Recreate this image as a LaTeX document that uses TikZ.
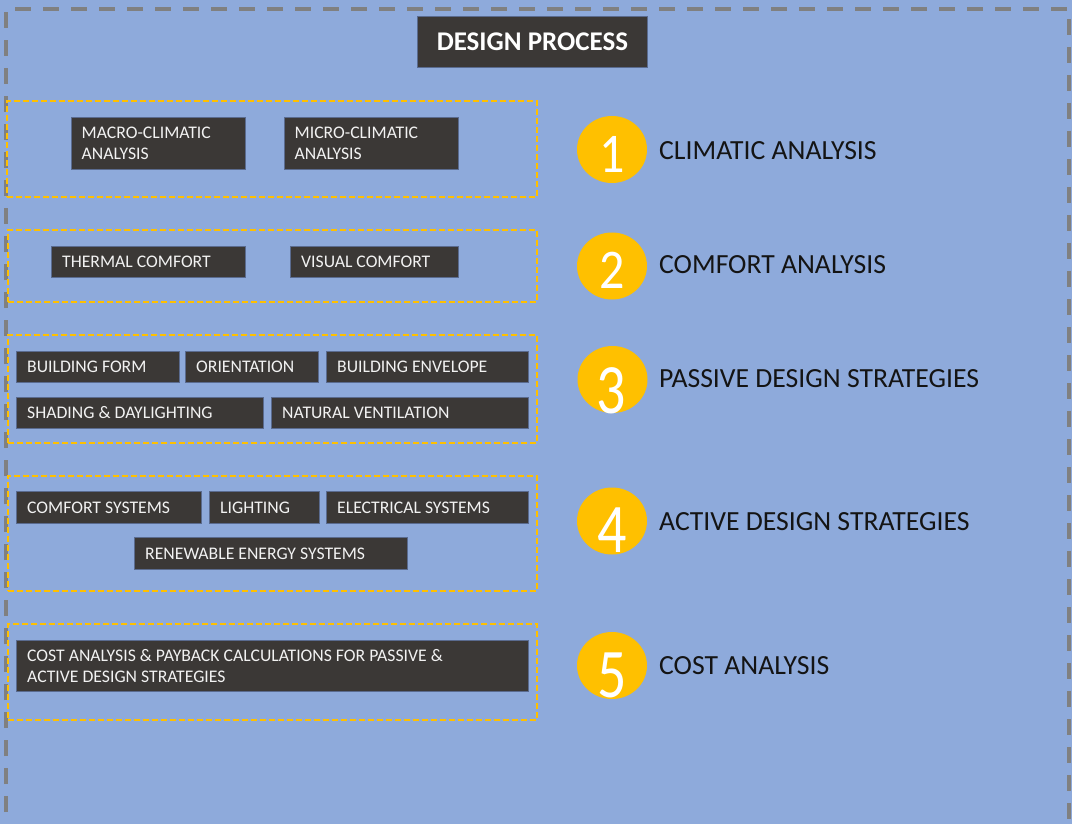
\documentclass[tikz,border=0pt]{standalone}
\usepackage{fontspec}
\setmainfont{Carlito}
\usetikzlibrary{shapes.geometric}
\definecolor{bg}{HTML}{8EAADB}
\definecolor{frame}{HTML}{808080}
\definecolor{gold}{HTML}{FFC000}
\definecolor{dark}{HTML}{3B3836}
\definecolor{dedge}{HTML}{5A6B8F}
\definecolor{ink}{HTML}{141414}
\newcommand\mkbox[6]{%
  \node[dbox, minimum width={#4-#2}, minimum height={#5-#3}, anchor=north west] (#1) at (#2,#3) {};
  \node[dtext, anchor=west] (#1t) at ([xshift=11pt]#1.west) {#6};}
\newcommand\mkgroup[5]{%
  \node[ybox, minimum width={#4-#2}, minimum height={#5-#3}, anchor=north west] (#1) at (#2,#3) {};}
\begin{document}
\begin{tikzpicture}[x=1pt,y=-1pt,
  dbox/.style={rectangle, draw=dedge, line width=0.8pt, fill=dark, inner sep=0pt},
  dtext/.style={inner sep=0pt, text=white!95!black, align=left, font=\fontsize{17.7}{20.5}\selectfont},
  ybox/.style={rectangle, draw=gold, line width=1.8pt, dash pattern=on 6pt off 3pt, inner sep=0pt},
  stepdisc/.style={ellipse, fill=gold, minimum width=70pt, minimum height=67pt, inner sep=0pt},
  stepnum/.style={inner sep=0pt, text=white},
  steplabel/.style={inner sep=0pt, text=ink, font=\fontsize{27.7}{30}\selectfont},
  framestyle/.style={draw=frame, line width=3.6pt, dash pattern=on 16pt off 12pt}]
\useasboundingbox (0,0) rectangle (1072,824);
\fill[bg] (0,0) rectangle (1072,824);
\begin{scope}
\clip (0,0) rectangle (1072,824);
\draw[framestyle] (6,840) -- (6,9) -- (1069,9) -- (1069,840);
\end{scope}
% title
\node[dbox, minimum width=230, minimum height=51, anchor=north west] (title) at (417,16) {};
\node[inner sep=0pt, text=white, font=\bfseries\fontsize{27}{30}\selectfont] (titlet) at (title.center) {DESIGN PROCESS};
% groups
\mkgroup{g1}{6}{100}{536}{196}
\mkgroup{g2}{7}{229}{536}{301}
\mkgroup{g3}{7}{334}{536}{442}
\mkgroup{g4}{7}{475}{536}{590}
\mkgroup{g5}{7}{623}{536}{719}
% boxes
\mkbox{macro}{70.5}{117}{245}{169}{MACRO-CLIMATIC\\ANALYSIS}
\mkbox{micro}{283.5}{117}{457.5}{169}{MICRO-CLIMATIC\\ANALYSIS}
\mkbox{thermal}{51}{246}{245}{277}{THERMAL COMFORT}
\mkbox{visual}{290}{246}{457.5}{277}{VISUAL COMFORT}
\mkbox{form}{16}{351}{179}{382}{BUILDING FORM}
\mkbox{orient}{185}{351}{318}{382}{ORIENTATION}
\mkbox{envelope}{326}{351}{528}{382}{BUILDING ENVELOPE}
\mkbox{shading}{16}{397}{263}{428}{SHADING \& DAYLIGHTING}
\mkbox{natvent}{271}{397}{528}{428}{NATURAL VENTILATION}
\mkbox{comfsys}{16}{491}{201}{523}{COMFORT SYSTEMS}
\mkbox{lighting}{209}{491}{319}{523}{LIGHTING}
\mkbox{elec}{326}{491}{528}{523}{ELECTRICAL SYSTEMS}
\mkbox{renew}{134}{537}{407}{569}{RENEWABLE ENERGY SYSTEMS}
\mkbox{cost}{16}{640}{528}{691}{COST ANALYSIS \& PAYBACK CALCULATIONS FOR PASSIVE \&\\ACTIVE DESIGN STRATEGIES}
% steps
\node[stepdisc] (c1) at (612,149.5) {};
\node[stepnum, font=\fontsize{50}{50}\selectfont, yscale=1.12] (n1) at (612.5,154) {1};
\node[steplabel, anchor=west] (l1) at (659,151) {CLIMATIC ANALYSIS};
\node[stepdisc] (c2) at (612,266) {};
\node[stepnum, font=\fontsize{50}{50}\selectfont, yscale=1.12] (n2) at (612.5,270.5) {2};
\node[steplabel, anchor=west] (l2) at (659,265) {COMFORT ANALYSIS};
\node[stepdisc] (c3) at (612.5,379.5) {};
\node[stepnum, font=\fontsize{58}{58}\selectfont, yscale=1.22] (n3) at (611,390.5) {3};
\node[steplabel, anchor=west] (l3) at (659,379) {PASSIVE DESIGN STRATEGIES};
\node[stepdisc] (c4) at (612,521) {};
\node[stepnum, font=\fontsize{58}{58}\selectfont, yscale=1.2] (n4) at (612.5,530.5) {4};
\node[steplabel, anchor=west] (l4) at (659,521.5) {ACTIVE DESIGN STRATEGIES};
\node[stepdisc] (c5) at (612,665.5) {};
\node[stepnum, font=\fontsize{58}{58}\selectfont, yscale=1.2] (n5) at (612,675.5) {5};
\node[steplabel, anchor=west] (l5) at (659,665.5) {COST ANALYSIS};
\end{tikzpicture}
\end{document}
